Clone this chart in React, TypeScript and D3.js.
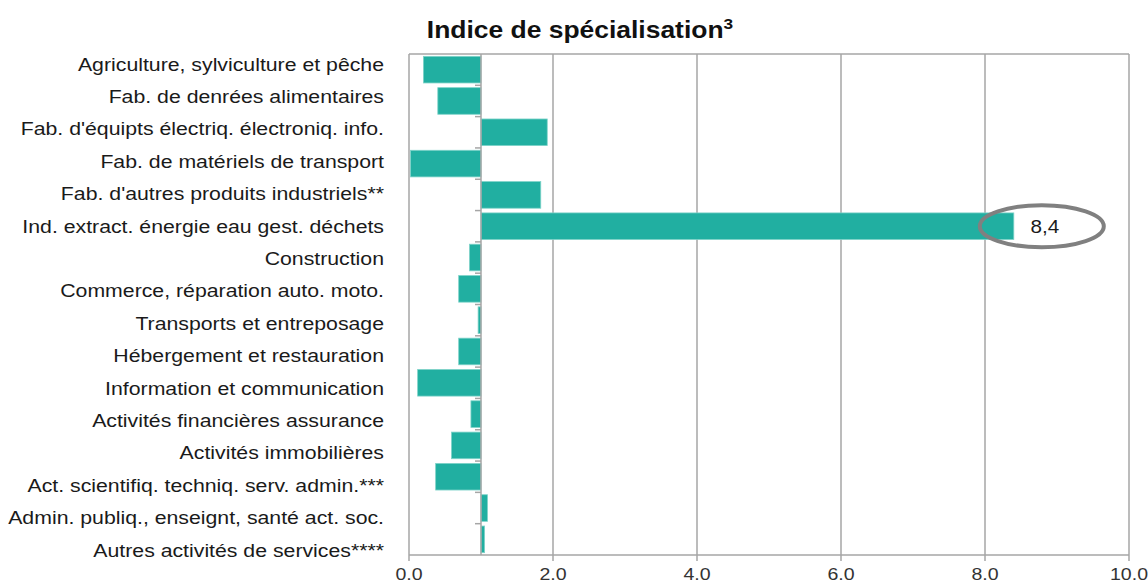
import React from 'react'
import * as d3 from 'd3'

// secteurs, du haut vers le bas
const categories = [
  'Agriculture, sylviculture et pêche',
  'Fab. de denrées alimentaires',
  "Fab. d'équipts électriq. électroniq. info.",
  'Fab. de matériels de transport',
  "Fab. d'autres produits industriels**",
  'Ind. extract. énergie eau gest. déchets',
  'Construction',
  'Commerce, réparation auto. moto.',
  'Transports et entreposage',
  'Hébergement et restauration',
  'Information et communication',
  'Activités financières assurance',
  'Activités immobilières',
  'Act. scientifiq. techniq. serv. admin.***',
  'Admin. publiq., enseignt, santé act. soc.',
  'Autres activités de services****',
]

const values = [0.2, 0.4, 1.92, 0.02, 1.83, 8.4, 0.84, 0.69, 0.96, 0.69, 0.12, 0.86, 0.59, 0.37, 1.09, 1.05]

const xTicks = [0, 2, 4, 6, 8, 10]
const baseline = 1
const highlightIndex = 5
const highlightLabel = '8,4'

// le rendu d'origine est étiré en largeur
const SX = 1.15

export default function App() {
  const width = 1148
  const height = 583
  const left = 409, right = 1129, top = 54, bottom = 555

  const x = d3.scaleLinear().domain([0, 10]).range([left, right])
  const y = d3.scaleBand<string>().domain(categories).range([top, bottom]).paddingInner(0.15).paddingOuter(0.075)
  const yLabel = d3.scalePoint<string>().domain(categories).range([64, 550])
  const step = y.step()
  const grid = '#a6a6a6'
  const font = '"Liberation Sans", Arial, sans-serif'

  const hx = x(values[highlightIndex])
  const hy = (y(categories[highlightIndex]) as number) + y.bandwidth() / 2

  const tr = (tx: number, ty: number) => `translate(${tx},${ty}) scale(${SX},1)`

  return <svg width={width} height={height} style={{position: 'absolute', left: 0, top: 0}} fontFamily={font}>
    <rect x={0} y={0} width={width} height={height} fill="white" />
    <text transform={tr(580, 38)} textAnchor="middle" fontSize={23} fontWeight="bold" fill="#111">
      Indice de spécialisation<tspan dy={-9} fontSize={15}>3</tspan>
    </text>

    {/* cadre et grille */}
    <line x1={left} x2={right} y1={top} y2={top} stroke={grid} strokeWidth={1.5} />
    {xTicks.map(t => <g key={t}>
      <line x1={x(t)} x2={x(t)} y1={top} y2={bottom + 6} stroke={grid} strokeWidth={1.5} />
      <text transform={tr(x(t), 580)} textAnchor="middle" fontSize={17} fill="#333">{t.toFixed(1)}</text>
    </g>)}
    <line x1={left} x2={right} y1={bottom} y2={bottom} stroke={grid} strokeWidth={1.5} />

    {categories.map((c, i) => {
      const v = values[i]
      const x0 = Math.min(x(v), x(baseline))
      const w = Math.abs(x(v) - x(baseline))
      const yy = y(c) as number
      return <g key={c}>
        <rect x={x0} y={yy} width={w} height={y.bandwidth()} fill="#21afa1" stroke="#7fd3c9" strokeWidth={0.8} />
        <text transform={tr(384, (yLabel(c) as number) + 6.5)} textAnchor="end" fontSize={18.5} fill="#1a1a1a">{c}</text>
      </g>
    })}

    {/* axe des catégories à 1,0 */}
    <line x1={x(baseline)} x2={x(baseline)} y1={top} y2={bottom} stroke={grid} strokeWidth={1.5} />
    {categories.slice(1).map((c, i) => {
      const ty = top + step * (i + 1)
      return <line key={c} x1={x(baseline) - 6} x2={x(baseline)} y1={ty} y2={ty} stroke={grid} strokeWidth={1.5} />
    })}

    <ellipse cx={hx + 28} cy={hy} rx={62} ry={21} fill="none" stroke="#808080" strokeWidth={4} />
    <text transform={tr(hx + 31, hy + 7)} textAnchor="middle" fontSize={18} fill="#1a1a1a">{highlightLabel}</text>
  </svg>
}
